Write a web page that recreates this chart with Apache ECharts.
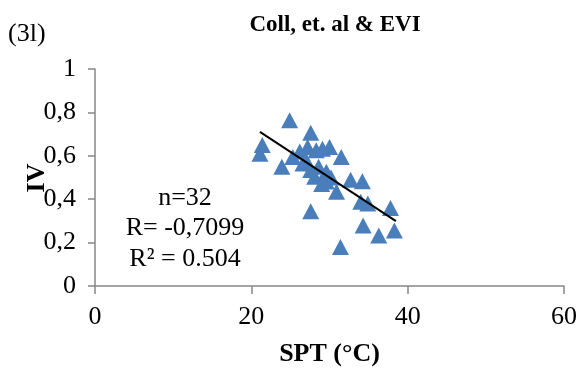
<!DOCTYPE html>
<html>
<head>
<meta charset="utf-8">
<script src="https://cdn.jsdelivr.net/npm/echarts@6/dist/echarts.min.js"></script>
<style>
  html, body { margin: 0; padding: 0; background: #fff; }
  #chart { width: 580px; height: 372px; }
</style>
</head>
<body>
<div id="chart"></div>
<script>
// SPT (°C) against IV for the Coll et al. samples
const sptValues = [24.9, 27.6, 21.4, 21.1, 23.9, 25.3, 27.2, 28.3, 29.1, 30.0,
                   31.5, 26.6, 27.6, 28.1, 29.6, 29.6, 30.9, 32.7, 34.2, 34.0,
                   34.9, 37.8, 27.6, 34.3, 36.3, 38.3, 31.4, 26.2, 28.6, 29.0,
                   27.0, 30.2];
const ivValues  = [0.764, 0.706, 0.650, 0.610, 0.549, 0.595, 0.641, 0.626, 0.632, 0.640,
                   0.594, 0.564, 0.534, 0.503, 0.526, 0.481, 0.434, 0.490, 0.483, 0.388,
                   0.380, 0.360, 0.345, 0.279, 0.233, 0.256, 0.180, 0.620, 0.550, 0.470,
                   0.580, 0.500];

// Linear trend line end points
const trendX = [21.1, 38.5];
const trendY = [0.710, 0.299];

const xTicks = [0, 20, 40, 60];
const yTicks = [0, 0.2, 0.4, 0.6, 0.8, 1];

const statLines = ['n=32', 'R= -0,7099', 'R² = 0.504'];

const serif = '"Liberation Serif", "Times New Roman", serif';
const axisGray = '#868686';

const points = sptValues.map((x, i) => [x, ivValues[i]]);
const trend = trendX.map((x, i) => [x, trendY[i]]);

const chart = echarts.init(document.getElementById('chart'), null, { renderer: 'canvas' });

chart.setOption({
  animation: false,
  backgroundColor: '#fff',
  title: {
    text: 'Coll, et. al & EVI',
    left: 330, top: 9, textAlign: 'center',
    textStyle: { fontFamily: serif, fontSize: 23, fontWeight: 'bold', color: '#000' }
  },
  grid: { left: 95, right: 14, top: 69, bottom: 85, containLabel: false },
  xAxis: {
    type: 'value',
    min: xTicks[0], max: xTicks[xTicks.length - 1], interval: xTicks[1] - xTicks[0],
    name: 'SPT (°C)', nameLocation: 'middle', nameGap: 55,
    nameTextStyle: { fontFamily: serif, fontSize: 26, fontWeight: 'bold', color: '#000' },
    axisLine: { show: true, lineStyle: { color: axisGray, width: 1.5 } },
    axisTick: { show: true, length: 8, inside: false, lineStyle: { color: axisGray, width: 1.5 } },
    axisLabel: { margin: 18, fontFamily: serif, fontSize: 26, color: '#000' },
    splitLine: { show: false }
  },
  yAxis: {
    type: 'value',
    min: yTicks[0], max: yTicks[yTicks.length - 1], interval: yTicks[1] - yTicks[0],
    axisLine: { show: true, lineStyle: { color: axisGray, width: 1.5 } },
    axisTick: { show: true, length: 7, inside: false, lineStyle: { color: axisGray, width: 1.5 } },
    axisLabel: {
      margin: 19, fontFamily: serif, fontSize: 26, color: '#000',
      formatter: v => String(Math.round(v * 10) / 10).replace('.', ',')
    },
    splitLine: { show: false }
  },
  graphic: [
    {
      type: 'text', left: 8, top: 21,
      style: { text: '(3l)', fontFamily: serif, fontSize: 26, fill: '#000' }
    },
    {
      type: 'text', x: 37, y: 178, rotation: Math.PI / 2,
      style: {
        text: 'IV', fontFamily: serif, fontSize: 26, fontWeight: 'bold', fill: '#000',
        align: 'center', verticalAlign: 'middle'
      }
    },
    ...statLines.map((t, i) => ({
      type: 'text', x: 185, y: 198 + i * 30.5,
      style: {
        text: t, fontFamily: serif, fontSize: 26, fill: '#000',
        align: 'center', verticalAlign: 'middle'
      }
    }))
  ],
  series: [
    {
      type: 'scatter',
      data: points,
      symbol: 'triangle',
      symbolSize: [17, 16],
      itemStyle: { color: '#4A7EBB', opacity: 1 },
      z: 2
    },
    {
      type: 'line',
      data: trend,
      symbol: 'none',
      lineStyle: { color: '#000', width: 2 },
      z: 3
    }
  ]
});
</script>
</body>
</html>
